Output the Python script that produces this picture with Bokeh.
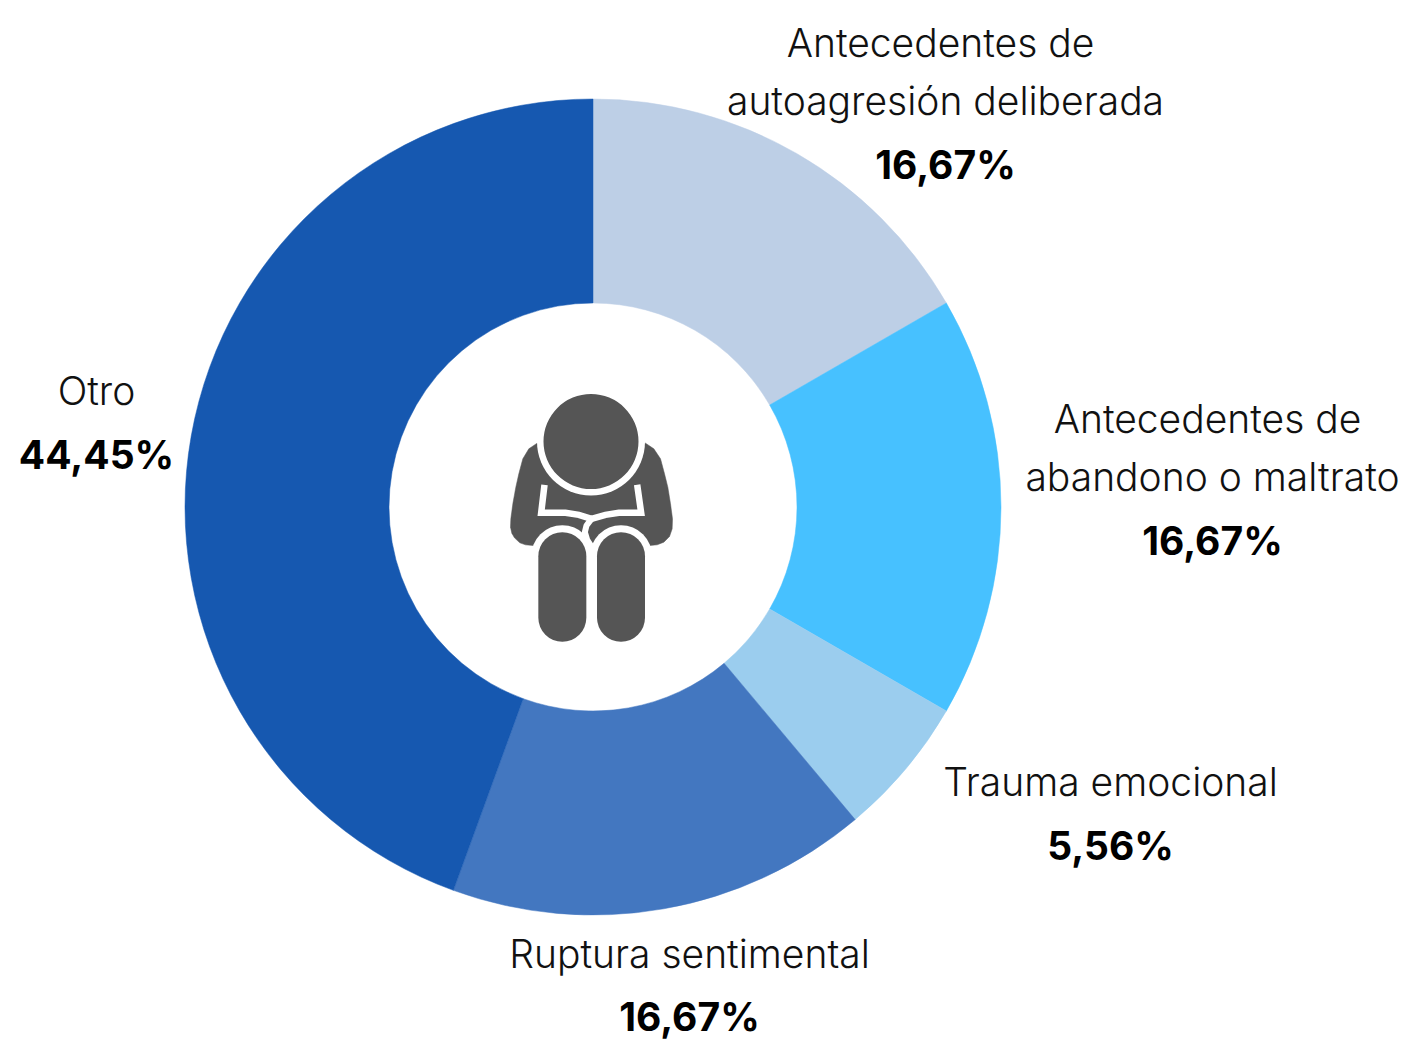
from bokeh.plotting import figure
from bokeh.embed import file_html
from bokeh.resources import INLINE
from bokeh.models import Range1d, ColumnDataSource
from bokeh.core.properties import value
import math

categories = ["Antecedentes de autoagresión deliberada", "Antecedentes de abandono o maltrato",
              "Trauma emocional", "Ruptura sentimental", "Otro"]
values = [16.67, 16.67, 5.56, 16.67, 44.45]
colors = ["#BDCFE6", "#47C1FF", "#9BCDEE", "#4377C0", "#1658B0"]
value_labels = ["16,67%", "16,67%", "5,56%", "16,67%", "44,45%"]

W, H = 1409, 1039
LIGHT = "Inter Light"
BOLD = "Inter"
def Y(py): return H - py

p = figure(width=W, height=H, output_backend="svg", toolbar_location=None,
           x_range=Range1d(0, W), y_range=Range1d(0, H),
           min_border=0, outline_line_color=None)
p.axis.visible = False
p.grid.visible = False

cx, cy, R_out, R_in = 592.5, Y(506.5), 408, 204
total = sum(values)
start, end, cum = [], [], 0.0
for v in values:
    start.append(math.pi/2 - 2*math.pi*(cum+v)/total)
    end.append(math.pi/2 - 2*math.pi*cum/total)
    cum += v
src = ColumnDataSource(dict(start=start, end=end, color=colors))
p.annular_wedge(x=cx, y=cy, inner_radius=R_in, outer_radius=R_out, start_angle="start", end_angle="end",
                fill_color="color", line_color="color", line_width=0.5, source=src)

# Icon, outline read in a 3x crop with origin (490, 380)
def ix(z): return [490 + a/3 for a in z]
def iy(z): return [Y(380 + a/3) for a in z]
GRAY = "#555555"
bx = [140,115,97,85,76,67,61,60,64,72,88,105,128,478,500,520,537,545,546,540,532,522,510,490,465]
by = [188,205,235,280,320,370,415,440,458,472,487,493,495,495,493,485,468,445,415,370,320,280,235,205,188]
p.patch(ix(bx), iy(by), fill_color=GRAY, line_color=GRAY, line_width=0.5)
# chest/arm gaps
p.line(ix([162,152,225,265,303,345,385,452,440]), iy([313,397,397,403,415,403,397,397,313]),
       line_color="white", line_width=6.5, line_join="miter")
p.line(ix([303,288,283,290,304]), iy([415,435,455,478,500]), line_color="white", line_width=6)
# legs
for lx in ([215.5, 215.5], [391.5, 391.5]):
    p.line(ix(lx), iy([527, 712]), line_color="white", line_width=62, line_cap="round")
p.quad(left=[490+290/3], right=[490+318/3], top=[Y(380+500/3)], bottom=[Y(380+790/3)], fill_color="white", line_color=None)
p.line(ix([215.5,215.5]), iy([527,712]), line_color=GRAY, line_width=48, line_cap="round")
p.line(ix([391.5,391.5]), iy([527,712]), line_color=GRAY, line_width=48, line_cap="round")
# head
p.circle(x=[590.5], y=[Y(441)], radius=54, fill_color="white", line_color=None)
p.circle(x=[590.5], y=[Y(441)], radius=47.5, fill_color=GRAY, line_color=None)

# Labels: centre x, vertical anchor y in page pixels
name_lines = [["Antecedentes de", "autoagresión deliberada"], ["Antecedentes de", "abandono o maltrato"],
              ["Trauma emocional"], ["Ruptura sentimental"], ["Otro"]]
name_x = [[940, 945], [1207, 1212], [1110], [689], [96]]
name_y = [[42, 100], [418, 476], [781], [953], [390]]
pct_x = [945, 1212, 1110, 689, 96]
pct_y = [163.5, 539.5, 844.5, 1016, 453.5]

for lines, xs, ys in zip(name_lines, name_x, name_y):
    p.text(x=xs, y=[Y(v) for v in ys], text=lines, text_font=value(LIGHT), text_font_size="39px",
           text_color="#111111", text_align="center", text_baseline="alphabetic")
p.text(x=pct_x, y=[Y(v) for v in pct_y], text=value_labels, text_font=value(BOLD), text_font_style="bold",
       text_font_size="39px", text_color="#000000", text_align="center", text_baseline="alphabetic")

open("out.html", "w").write(file_html(p, INLINE))
